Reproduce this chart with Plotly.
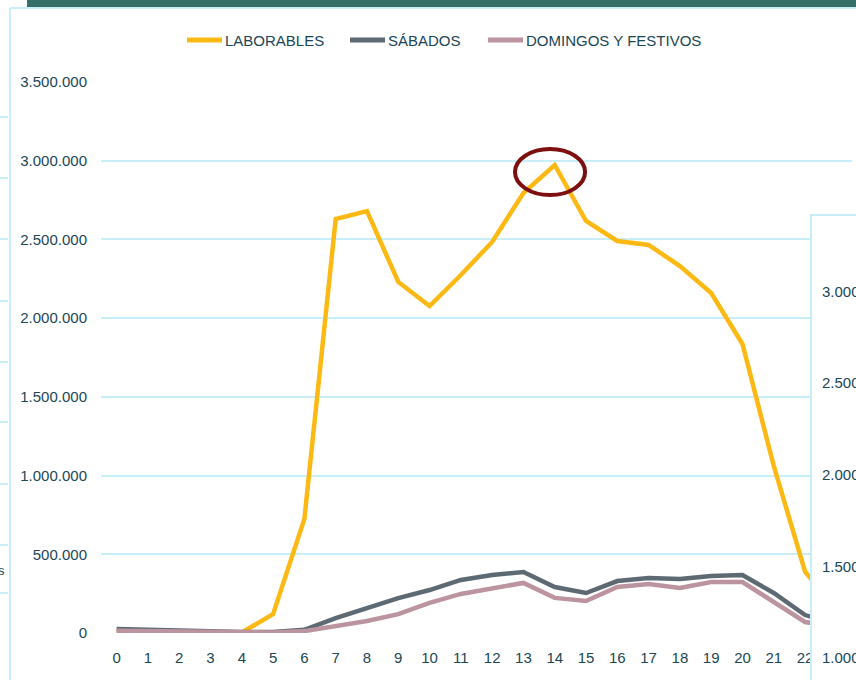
import plotly.graph_objects as go

hours = list(range(24))
hour_labels = [str(h) for h in hours]
laborables = [15000, 10000, 5000, 3000, 3000, 120000, 725000, 2630000, 2680000, 2230000,
              2077000, 2274000, 2484000, 2795000, 2973000, 2617000, 2490000, 2465000,
              2331000, 2160000, 1836000, 1061000, 390000, 150000]
sabados = [25000, 19000, 13000, 6000, 6000, 6000, 20000, 95000, 159000, 222000, 273000,
           337000, 368000, 387000, 292000, 254000, 330000, 349000, 343000, 362000, 368000,
           254000, 114000, 60000]
domingos = [15000, 12000, 5000, 3000, 3000, 3000, 12000, 44000, 76000, 120000, 191000,
            248000, 280000, 318000, 223000, 203000, 292000, 311000, 286000, 324000, 324000,
            197000, 70000, 40000]
series_names = ["LABORABLES", "SÁBADOS", "DOMINGOS Y FESTIVOS"]
series_colors = ["#fdb913", "#5e6a73", "#bc94a0"]
y_ticks = [0, 500000, 1000000, 1500000, 2000000, 2500000, 3000000, 3500000]
y_labels = ["0", "500.000", "1.000.000", "1.500.000", "2.000.000", "2.500.000", "3.000.000", "3.500.000"]
side_labels = ["3.000", "2.500", "2.000", "1.500", "1.000"]

FONT = "Liberation Sans, Arial, sans-serif"
TXT = "#1a4656"
GRID = "#c8eefa"

# plot area in pixels
L, R, T, B = 101, 852, 82, 633
W, H = R - L, B - T
def px(x):
    return (x - L) / W
def py(y):
    return (B - y) / H

fig = go.Figure()
for name, vals, col in zip(series_names, [laborables, sabados, domingos], series_colors):
    fig.add_trace(go.Scatter(x=hours, y=vals, mode="lines", name=name,
                             line=dict(color=col, width=4.5), showlegend=False))

shapes = []
annotations = []
# top dark band
shapes.append(dict(type="rect", xref="paper", yref="paper", x0=px(27), x1=px(860),
                   y0=py(7), y1=py(-5), fillcolor="#356f67", line=dict(width=0), layer="above"))
# chart frame left/top
shapes.append(dict(type="line", xref="paper", yref="paper", x0=px(10), x1=px(10),
                   y0=py(8), y1=py(690), line=dict(color=GRID, width=2)))
shapes.append(dict(type="line", xref="paper", yref="paper", x0=px(10), x1=px(860),
                   y0=py(8), y1=py(8), line=dict(color=GRID, width=2)))
# left edge tick marks of background chart
for yy in [117, 178, 239, 301, 362, 422, 484, 545, 593]:
    shapes.append(dict(type="line", xref="paper", yref="paper", x0=px(-5), x1=px(8),
                       y0=py(yy), y1=py(yy), line=dict(color=GRID, width=2)))
# legend (manual)
leg_line_x = [187, 350, 488]
for name, col, lx in zip(series_names, series_colors, leg_line_x):
    shapes.append(dict(type="line", xref="paper", yref="paper", x0=px(lx), x1=px(lx + 35),
                       y0=py(40), y1=py(40), line=dict(color=col, width=5)))
    annotations.append(dict(xref="paper", yref="paper", x=px(lx + 36), y=py(40.5), text=name,
                            showarrow=False, xanchor="left", yanchor="middle",
                            font=dict(family=FONT, size=15, color=TXT)))
# highlight ellipse
shapes.append(dict(type="circle", xref="x", yref="y", x0=12.73, x1=14.97,
                   y0=2782000, y1=3074000, line=dict(color="#7d0f0f", width=4), layer="above"))
# overlapping right panel
shapes.append(dict(type="rect", xref="paper", yref="paper", x0=px(811), x1=px(870),
                   y0=py(700), y1=py(215), fillcolor="white",
                   line=dict(color=GRID, width=2), layer="above"))

for i, lab in enumerate(side_labels):
    annotations.append(dict(xref="paper", yref="paper", x=px(820), y=py(291 + i * 91.7),
                            text=lab, showarrow=False, xanchor="left", yanchor="middle",
                            font=dict(family=FONT, size=15, color=TXT)))
annotations.append(dict(xref="paper", yref="paper", x=px(-4), y=py(570), text="s",
                        showarrow=False, xanchor="left", yanchor="middle",
                        font=dict(family=FONT, size=13, color=TXT)))

fig.update_layout(
    width=856, height=680,
    margin=dict(l=L, r=856 - R, t=T, b=680 - B, autoexpand=False),
    paper_bgcolor="white", plot_bgcolor="white",
    font=dict(family=FONT, size=15, color=TXT),
    showlegend=False,
    xaxis=dict(range=[-0.5, 23.5], tickmode="array", tickvals=hours, ticktext=hour_labels,
               showgrid=False, zeroline=False, showline=False, ticks="",
               ticklabelstandoff=14, tickfont=dict(family=FONT, size=15, color=TXT)),
    yaxis=dict(range=[0, 3500000], tickmode="array", tickvals=y_ticks, ticktext=y_labels,
               showgrid=True, gridcolor=GRID, gridwidth=2, zeroline=False, showline=False,
               ticks="", ticklabelstandoff=13, tickfont=dict(family=FONT, size=15, color=TXT)),
    shapes=shapes,
    annotations=annotations,
)

fig.write_html("out.html", config={"displayModeBar": False},
               post_script="document.body.style.margin='0';document.body.style.overflow='hidden';")
